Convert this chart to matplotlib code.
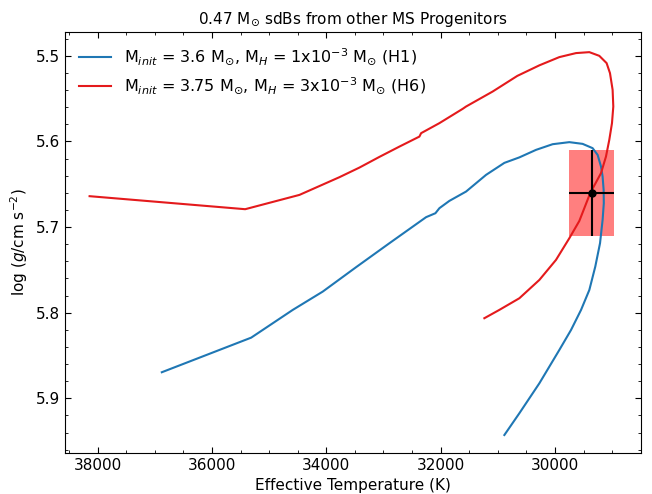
"""0.47 Msun sdBs from other MS progenitors: log g vs Teff tracks."""
import matplotlib
matplotlib.use('Agg')
import matplotlib.pyplot as plt
from matplotlib.ticker import MultipleLocator

# H1 track (M_init = 3.6, M_H = 1e-3)
teff_h1 = [36877, 35314, 34587, 34062, 33479, 32896, 32255, 32092, 32022, 31848,
           31556, 31206, 30886, 30624, 30332, 30042, 29750, 29518, 29343, 29255,
           29196, 29168, 29150, 29147, 29168, 29213, 29296, 29400, 29545, 29720,
           29925, 30274, 30624, 30886]
logg_h1 = [5.8695, 5.8291, 5.7967, 5.7753, 5.7468, 5.7188, 5.6884, 5.6838, 5.6779, 5.6694,
           5.6585, 5.639, 5.625, 5.6186, 5.6098, 5.6032, 5.6008, 5.6028, 5.6078, 5.6157,
           5.6293, 5.641, 5.6565, 5.6721, 5.6916, 5.7188, 5.7461, 5.7734, 5.7967, 5.8201,
           5.8435, 5.8824, 5.9174, 5.9428]

# H6 track (M_init = 3.75, M_H = 3e-3)
teff_h6 = [38140, 35419, 34470, 33770, 33421, 33071, 32722, 32372, 32342, 32022,
           31615, 31556, 31091, 30659, 30274, 29925, 29633, 29400, 29226, 29098,
           29039, 28993, 28981, 29004, 29051, 29109, 29196, 29383, 29575, 29750,
           29983, 30274, 30624, 30974, 31236]
logg_h6 = [5.6639, 5.6791, 5.6624, 5.6417, 5.6305, 5.618, 5.606, 5.5943, 5.5903, 5.5786,
           5.5619, 5.5592, 5.5417, 5.5234, 5.5111, 5.5015, 5.4968, 5.4957, 5.5, 5.5085,
           5.5202, 5.5397, 5.5592, 5.5786, 5.5981, 5.6176, 5.637, 5.66, 5.6928, 5.713,
           5.7383, 5.7617, 5.7831, 5.7967, 5.8064]

# observed star
obs_teff = 29360
obs_teff_err = 400
obs_logg = 5.66
obs_logg_err = 0.05

fig = plt.figure(figsize=(6.52, 4.94), dpi=100)
ax = fig.add_axes([0.0997, 0.083, 0.884, 0.852])

ax.plot(teff_h1, logg_h1, color='#1f77b4', linewidth=1.5,
        label=r'M$_{init}$ = 3.6 M$_{\odot}$, M$_{H}$ = 1x10$^{-3}$ M$_{\odot}$ (H1)')
ax.plot(teff_h6, logg_h6, color='#e41a1c', linewidth=1.5,
        label=r'M$_{init}$ = 3.75 M$_{\odot}$, M$_{H}$ = 3x10$^{-3}$ M$_{\odot}$ (H6)')

ax.fill_between([obs_teff - obs_teff_err, obs_teff + obs_teff_err],
                obs_logg - obs_logg_err, obs_logg + obs_logg_err,
                color='red', alpha=0.5, linewidth=0, zorder=1)
ax.errorbar(obs_teff, obs_logg, xerr=obs_teff_err, yerr=obs_logg_err,
            fmt='o', color='black', markersize=5, elinewidth=1.5, capsize=0, zorder=4)

ax.set_xlim(38570, 28490)
ax.set_ylim(5.9638, 5.4723)
ax.xaxis.set_major_locator(MultipleLocator(2000))
ax.xaxis.set_minor_locator(MultipleLocator(500))
ax.yaxis.set_major_locator(MultipleLocator(0.1))
ax.yaxis.set_minor_locator(MultipleLocator(0.02))
ax.tick_params(which='both', direction='in', top=True, right=True)
ax.tick_params(which='major', length=4)
ax.tick_params(which='minor', length=2)

ax.set_xlabel('Effective Temperature (K)', fontsize=11)
ax.set_ylabel(r'log ($g$/cm s$^{-2}$)', fontsize=11)
ax.set_title(r'0.47 M$_{\odot}$ sdBs from other MS Progenitors', fontsize=11)
ax.tick_params(labelsize=11)
ax.legend(loc='upper left', frameon=False, fontsize=11.5)

plt.savefig('out.png', dpi=100)
